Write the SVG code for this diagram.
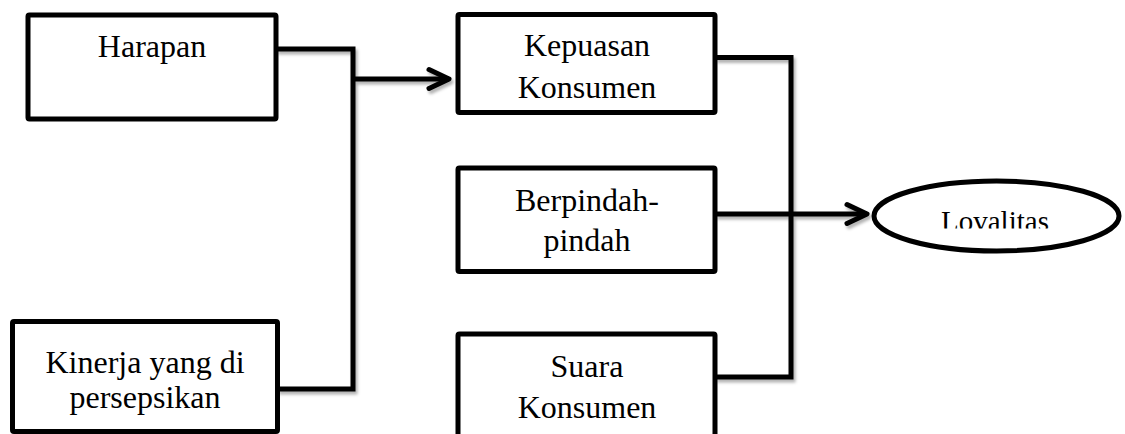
<svg xmlns="http://www.w3.org/2000/svg" width="1125" height="434" viewBox="0 0 1125 434">
  <style>
    .box { fill: #ffffff; stroke: #000000; stroke-width: 5; }
    .lbl { font-family: "Liberation Serif", "Times New Roman", serif; font-size: 32px; fill: #000000; text-anchor: middle; }
    .small { font-size: 29px; }
    .wire { fill: none; stroke: #000000; stroke-width: 5; stroke-linejoin: miter; }
  </style>
  <defs>
    <marker id="chevron" markerUnits="userSpaceOnUse" viewBox="-26 -14 30 28" refX="0" refY="0" markerWidth="30" markerHeight="28" orient="auto">
      <path d="M-20,-9.5 L0,0 L-20,9.5" fill="none" stroke="#000000" stroke-width="5" stroke-linecap="round" stroke-linejoin="round"/>
    </marker>
    <filter id="soft" x="-10%" y="-10%" width="130%" height="130%">
      <feDropShadow dx="2" dy="3" stdDeviation="1.8" flood-color="#000000" flood-opacity="0.3"/>
    </filter>
    <clipPath id="ovalText">
      <rect x="880" y="180" width="230" height="48.5"/>
    </clipPath>
  </defs>

  <!-- connectors -->
  <g id="connectors" filter="url(#soft)">
    <!-- inputs merge into satisfaction -->
    <polyline class="wire" points="276,49 353,49 353,389 277,389"/>
    <line class="wire" x1="353" y1="79" x2="449" y2="79" marker-end="url(#chevron)"/>
    <!-- outcomes merge into loyalty -->
    <polyline class="wire" points="715,57.5 791,57.5 791,377 715,377"/>
    <line class="wire" x1="715" y1="214" x2="867" y2="214" marker-end="url(#chevron)"/>
  </g>

  <g id="harapan">
    <rect class="box" x="28" y="15" width="248" height="104" rx="1.5"/>
    <text class="lbl" x="152" y="57">Harapan</text>
  </g>

  <g id="kinerja">
    <rect class="box" x="12.5" y="321.5" width="265" height="110" rx="1.5"/>
    <text class="lbl" x="145" y="373">Kinerja yang di</text>
    <text class="lbl" x="145" y="408">persepsikan</text>
  </g>

  <g id="kepuasan">
    <rect class="box" x="458" y="14.5" width="257" height="98" rx="1.5"/>
    <text class="lbl" x="587" y="55.5">Kepuasan</text>
    <text class="lbl" x="587" y="98">Konsumen</text>
  </g>

  <g id="berpindah">
    <rect class="box" x="458" y="168" width="257" height="103.5" rx="1.5"/>
    <text class="lbl" x="587" y="210.5">Berpindah-</text>
    <text class="lbl" x="587" y="250.5">pindah</text>
  </g>

  <g id="suara">
    <rect class="box" x="458" y="334" width="257" height="120" rx="1.5"/>
    <text class="lbl" x="587" y="377.3">Suara</text>
    <text class="lbl" x="587" y="418.3">Konsumen</text>
  </g>

  <g id="loyalitas">
    <ellipse class="box" cx="996.5" cy="216" rx="122.5" ry="35"/>
    <text class="lbl small" x="995" y="230.7" clip-path="url(#ovalText)">Lovalitas</text>
  </g>
</svg>
